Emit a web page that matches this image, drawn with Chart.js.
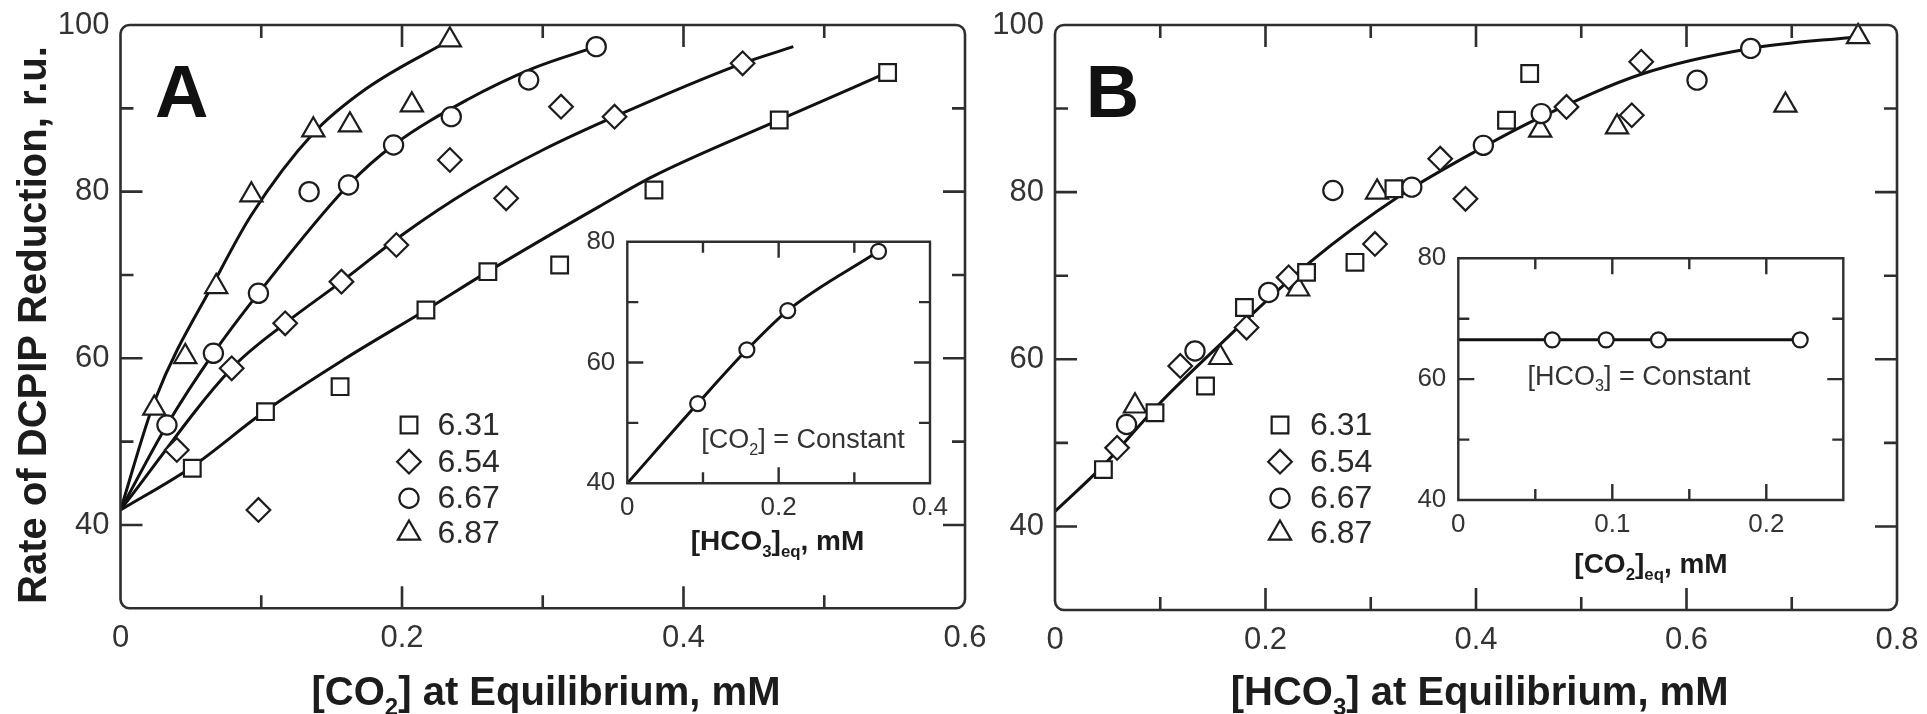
<!DOCTYPE html>
<html>
<head>
<meta charset="utf-8">
<script src="https://cdn.jsdelivr.net/npm/chart.js@4.4.1/dist/chart.umd.min.js"></script>
<style>
  html, body { margin: 0; padding: 0; background: #fff; }
  #wrap { position: relative; width: 1927px; height: 714px; overflow: hidden; background: #fff; }
  canvas { position: absolute; }
</style>
</head>
<body>
<div id="wrap">
  <canvas id="mainA" width="1000" height="714" style="left:0px;top:0px"></canvas>
  <canvas id="mainB" width="947" height="714" style="left:980px;top:0px"></canvas>
  <canvas id="insetA" width="400" height="375" style="left:560px;top:225px"></canvas>
  <canvas id="insetB" width="480" height="360" style="left:1390px;top:240px"></canvas>
</div>
<script>
// ---------- data ----------
const phLabels = ['6.31', '6.54', '6.67', '6.87'];

// Panel A: rate of DCPIP reduction vs [CO2] at equilibrium (mM), one series per pH
const a631 = [[0.051,46.8],[0.103,53.6],[0.156,56.6],[0.217,65.8],[0.261,70.4],[0.312,71.2],[0.379,80.2],[0.468,88.6],[0.545,94.3]];
const a654 = [[0.040,49.0],[0.079,58.8],[0.098,41.8],[0.117,64.2],[0.157,69.2],[0.196,73.6],[0.234,83.8],[0.274,79.2],[0.313,90.2],[0.351,89.0],[0.442,95.4]];
const a667 = [[0.033,52.0],[0.066,60.6],[0.098,67.8],[0.134,80.0],[0.162,80.8],[0.194,85.6],[0.235,89.0],[0.290,93.4],[0.338,97.4]];
const a687 = [[0.024,54.0],[0.046,60.2],[0.068,68.6],[0.093,79.6],[0.137,87.4],[0.163,88.0],[0.207,90.4],[0.234,98.2]];

// Panel A fitted curves
const fitA631 = [[0,41.8],[0.051,47.0],[0.103,53.7],[0.160,60.0],[0.217,65.8],[0.261,70.4],[0.340,78.2],[0.378,81.8],[0.468,88.6],[0.545,94.3]];
const fitA654 = [[0,41.8],[0.079,58.8],[0.117,64.2],[0.157,69.2],[0.200,74.8],[0.250,80.4],[0.300,85.0],[0.351,89.0],[0.442,95.4],[0.478,97.4]];
const fitA667 = [[0,41.8],[0.033,52.0],[0.066,60.6],[0.098,67.8],[0.162,80.8],[0.194,85.6],[0.246,91.0],[0.293,94.8],[0.338,97.4]];
const fitA687 = [[0,41.8],[0.0245,55.0],[0.068,69.6],[0.093,77.2],[0.137,87.0],[0.175,92.4],[0.234,98.2]];

// Panel B: same rates vs [HCO3-] at equilibrium (mM)
const b631 = [[0.046,46.8],[0.095,53.6],[0.143,56.8],[0.180,66.2],[0.239,70.4],[0.285,71.6],[0.322,80.4],[0.429,88.6],[0.451,94.2]];
const b654 = [[0.059,49.4],[0.119,59.2],[0.182,63.8],[0.222,69.8],[0.304,73.8],[0.366,84.0],[0.390,79.2],[0.486,90.2],[0.548,89.2],[0.557,95.6]];
const b667 = [[0.068,52.2],[0.133,61.0],[0.203,68.0],[0.264,80.2],[0.339,80.6],[0.407,85.6],[0.462,89.4],[0.610,93.4],[0.661,97.2]];
const b687 = [[0.076,54.4],[0.157,60.2],[0.231,68.4],[0.306,80.0],[0.461,87.4],[0.534,87.8],[0.694,90.4],[0.763,98.6]];
const fitB = [[0,41.8],[0.046,47.3],[0.100,54.8],[0.158,61.9],[0.242,71.6],[0.328,79.6],[0.407,85.4],[0.462,89.0],[0.559,94.2],[0.661,97.2],[0.763,98.6]];

// Inset A: [CO2] constant, rate vs [HCO3]eq
const insetAx = [0.093, 0.158, 0.212, 0.332];
const insetAy = [53.2, 62.1, 68.6, 78.4];
const insetAfit = [[0,40],[0.093,53.2],[0.158,62.1],[0.212,68.6],[0.332,78.4]];

// Inset B: [HCO3] constant, rate vs [CO2]eq
const insetBx = [0.061, 0.096, 0.130, 0.222];
const insetBy = [66.5, 66.5, 66.5, 66.5];
const insetBfit = [[0,66.5],[0.061,66.5],[0.096,66.5],[0.130,66.5],[0.222,66.5]];

// Tick values and their labels
const mainYTicks  = [30, 40, 50, 60, 70, 80, 90, 100];
const mainYLabels = ['', '40', '', '60', '', '80', '', '100'];
const aXTicks  = [0, 0.1, 0.2, 0.3, 0.4, 0.5, 0.6];
const aXLabels = ['0', '', '0.2', '', '0.4', '', '0.6'];
const bXTicks  = [0, 0.1, 0.2, 0.3, 0.4, 0.5, 0.6, 0.7, 0.8];
const bXLabels = ['0', '', '0.2', '', '0.4', '', '0.6', '', '0.8'];
const insetYTicks  = [40, 50, 60, 70, 80];
const insetYLabels = ['40', '', '60', '', '80'];
const insetAXTicks  = [0, 0.1, 0.2, 0.3, 0.4];
const insetAXLabels = ['0', '', '0.2', '', '0.4'];
const insetBXTicks  = [0, 0.05, 0.1, 0.15, 0.2, 0.25];
const insetBXLabels = ['0', '', '0.1', '', '0.2', ''];

// ---------- styling helpers ----------
const FONT = '"Liberation Sans", Arial, Helvetica, sans-serif';
const INK = '#1c1c1c';
const FRAME = '#2e2e2e';

const markerStyles = [
  { pointStyle: 'rect',     radius: 11.8 },
  { pointStyle: 'rectRot',  radius: 11.8 },
  { pointStyle: 'circle',   radius: 9.6 },
  { pointStyle: 'triangle', radius: 12.8 }
];

const toXY = arr => arr.map(p => ({ x: p[0], y: p[1] }));
const zipXY = (xs, ys) => xs.map((x, i) => ({ x, y: ys[i] }));

function markerSet(label, points, styleIdx, radiusOverride) {
  const st = markerStyles[styleIdx];
  return {
    label, data: points, isMarker: true, showLine: false, order: 1, clip: false,
    pointStyle: st.pointStyle, pointRadius: radiusOverride || st.radius,
    pointBorderWidth: 2.2, pointBorderColor: INK, pointBackgroundColor: '#fff',
    pointHoverRadius: radiusOverride || st.radius
  };
}
function curveSet(points) {
  return {
    data: points, showLine: true, order: 2, pointRadius: 0, pointHoverRadius: 0,
    borderColor: '#111', borderWidth: 3, cubicInterpolationMode: 'monotone', fill: false
  };
}

function axisX(min, max, ticks, labels, size, pad, height) {
  return {
    type: 'linear', position: 'bottom', min, max,
    afterBuildTicks: s => { s.ticks = ticks.map(v => ({ value: v })); },
    afterFit: s => { s.height = height; s.paddingLeft = 0; s.paddingRight = 0; },
    grid: { display: false, drawTicks: false }, border: { display: false },
    ticks: { autoSkip: false, maxRotation: 0, minRotation: 0, padding: pad, color: '#333',
             font: { family: FONT, size }, callback: (v, i) => labels[i] }
  };
}
function axisY(min, max, ticks, labels, size, pad, width) {
  return {
    type: 'linear', position: 'left', min, max,
    afterBuildTicks: s => { s.ticks = ticks.map(v => ({ value: v })); },
    afterFit: s => { s.width = width; s.paddingTop = 0; s.paddingBottom = 0; },
    grid: { display: false, drawTicks: false }, border: { display: false },
    ticks: { autoSkip: false, padding: pad, color: '#333',
             font: { family: FONT, size }, callback: (v, i) => labels[i] }
  };
}

// text with subscript pieces; parts: strings or [subscriptString]
function drawRich(ctx, parts, cx, baseline, size, weight, color) {
  const subSize = size * 0.6;
  let total = 0;
  const segs = parts.map(p => {
    const sub = Array.isArray(p);
    const t = sub ? p[0] : p;
    ctx.font = `${weight} ${sub ? subSize : size}px ${FONT}`;
    const w = ctx.measureText(t).width;
    total += w;
    return { t, sub, w };
  });
  let x = cx - total / 2;
  ctx.fillStyle = color;
  ctx.textAlign = 'left';
  ctx.textBaseline = 'alphabetic';
  segs.forEach(s => {
    ctx.font = `${weight} ${s.sub ? subSize : size}px ${FONT}`;
    ctx.fillText(s.t, x, baseline + (s.sub ? size * 0.24 : 0));
    x += s.w;
  });
}

function drawSymbol(ctx, style, r, x, y) {
  ctx.beginPath();
  if (style === 'circle') {
    ctx.arc(x, y, r, 0, Math.PI * 2);
  } else if (style === 'rect') {
    const s = r * Math.SQRT1_2;
    ctx.rect(x - s, y - s, 2 * s, 2 * s);
  } else if (style === 'rectRot') {
    ctx.moveTo(x - r, y); ctx.lineTo(x, y - r); ctx.lineTo(x + r, y); ctx.lineTo(x, y + r); ctx.closePath();
  } else if (style === 'triangle') {
    ctx.moveTo(x, y - r);
    ctx.lineTo(x + r * 0.866, y + r * 0.5);
    ctx.lineTo(x - r * 0.866, y + r * 0.5);
    ctx.closePath();
  }
  ctx.fill();
  ctx.stroke();
}

// Frame, inward tick marks, annotations and pH key for each panel
const decor = {
  id: 'decor',
  beforeDraw(chart, args, o) {
    if (!o.fillArea) return;
    const { ctx, chartArea: a } = chart;
    ctx.save();
    ctx.fillStyle = '#fff';
    ctx.fillRect(a.left, a.top, a.right - a.left, a.bottom - a.top);
    ctx.restore();
  },
  afterDraw(chart, args, o) {
    const { ctx, chartArea: a, scales } = chart;
    ctx.save();
    ctx.strokeStyle = FRAME;
    ctx.lineWidth = o.lineWidth;
    ctx.beginPath();
    if (o.radius && ctx.roundRect) ctx.roundRect(a.left, a.top, a.right - a.left, a.bottom - a.top, o.radius);
    else ctx.rect(a.left, a.top, a.right - a.left, a.bottom - a.top);
    ctx.stroke();

    ctx.beginPath();
    const xs = scales.x, ys = scales.y;
    xs.ticks.forEach(t => {
      if (t.value <= xs.min || t.value >= xs.max) return;
      const p = xs.getPixelForValue(t.value);
      const L = t.label ? o.major : o.minor;
      ctx.moveTo(p, a.bottom); ctx.lineTo(p, a.bottom - L);
      ctx.moveTo(p, a.top); ctx.lineTo(p, a.top + L);
    });
    ys.ticks.forEach(t => {
      if (t.value <= ys.min || t.value >= ys.max) return;
      const p = ys.getPixelForValue(t.value);
      const L = t.label ? o.major : o.minor;
      ctx.moveTo(a.left, p); ctx.lineTo(a.left + L, p);
      ctx.moveTo(a.right, p); ctx.lineTo(a.right - L, p);
    });
    ctx.stroke();

    (o.texts || []).forEach(t => {
      ctx.save();
      if (t.rotate) {
        ctx.translate(t.x, t.y);
        ctx.rotate(t.rotate);
        drawRich(ctx, t.parts, 0, t.size * 0.358, t.size, t.weight, t.color);
      } else {
        drawRich(ctx, t.parts, t.x, t.y, t.size, t.weight, t.color);
      }
      ctx.restore();
    });

    if (o.key) {
      const k = o.key;
      const sets = chart.data.datasets.filter(d => d.isMarker);
      sets.forEach((d, i) => {
        const y = k.rows[i];
        ctx.fillStyle = '#fff';
        ctx.strokeStyle = INK;
        ctx.lineWidth = 2.2;
        drawSymbol(ctx, d.pointStyle, d.pointRadius, k.symX, y);
        ctx.fillStyle = '#2a2a2a';
        ctx.font = `${k.size}px ${FONT}`;
        ctx.textAlign = 'left';
        ctx.textBaseline = 'middle';
        ctx.fillText(d.label, k.textX, y + 1);
      });
    }
    ctx.restore();
  }
};

const baseOptions = () => ({
  responsive: false, animation: false, events: [], devicePixelRatio: 1,
  plugins: { legend: { display: false }, tooltip: { enabled: false } }
});

// ---------- Panel A ----------
const optA = baseOptions();
optA.layout = { padding: { left: 0, top: 25, right: 35, bottom: 0 } };
optA.scales = {
  x: axisX(0, 0.6, aXTicks, aXLabels, 31, 12, 714 - 608.3),
  y: axisY(30, 100, mainYTicks, mainYLabels, 31, 11, 120.5)
};
optA.plugins.decor = {
  lineWidth: 2.6, radius: 9, major: 22, minor: 13,
  texts: [
    { parts: ['Rate of DCPIP Reduction, r.u.'], x: 32, y: 325, rotate: -Math.PI / 2, size: 40, weight: 'bold', color: INK },
    { parts: ['[CO', ['2'], '] at Equilibrium, mM'], x: 546, y: 705, size: 40, weight: 'bold', color: INK },
    { parts: ['A'], x: 181.7, y: 116.7, size: 74, weight: 'bold', color: '#111' }
  ],
  key: { symX: 409, textX: 437.5, rows: [425, 461.7, 498.3, 533.3], size: 32 }
};
new Chart(document.getElementById('mainA'), {
  type: 'scatter',
  data: {
    datasets: [
      markerSet(phLabels[0], toXY(a631), 0),
      markerSet(phLabels[1], toXY(a654), 1),
      markerSet(phLabels[2], toXY(a667), 2),
      markerSet(phLabels[3], toXY(a687), 3),
      curveSet(toXY(fitA631)),
      curveSet(toXY(fitA654)),
      curveSet(toXY(fitA667)),
      curveSet(toXY(fitA687))
    ]
  },
  options: optA,
  plugins: [decor]
});

// ---------- Panel B ----------
const optB = baseOptions();
optB.layout = { padding: { left: 0, top: 25, right: 30, bottom: 0 } };
optB.scales = {
  x: axisX(0, 0.8, bXTicks, bXLabels, 31, 12, 714 - 610),
  y: axisY(30, 100, mainYTicks, mainYLabels, 31, 11, 75)
};
optB.plugins.decor = {
  lineWidth: 2.6, radius: 9, major: 22, minor: 13,
  texts: [
    { parts: ['[HCO', ['3'], '] at Equilibrium, mM'], x: 499.6, y: 705, size: 40, weight: 'bold', color: INK },
    { parts: ['B'], x: 132.5, y: 116.7, size: 74, weight: 'bold', color: '#111' }
  ],
  key: { symX: 300, textX: 330, rows: [425, 461.7, 498.3, 533.3], size: 32 }
};
new Chart(document.getElementById('mainB'), {
  type: 'scatter',
  data: {
    datasets: [
      markerSet(phLabels[0], toXY(b631), 0),
      markerSet(phLabels[1], toXY(b654), 1),
      markerSet(phLabels[2], toXY(b667), 2),
      markerSet(phLabels[3], toXY(b687), 3),
      curveSet(toXY(fitB))
    ]
  },
  options: optB,
  plugins: [decor]
});

// ---------- Inset A ----------
const optIA = baseOptions();
optIA.layout = { padding: { left: 0, top: 16.7, right: 30, bottom: 0 } };
optIA.scales = {
  x: axisX(0, 0.4, insetAXTicks, insetAXLabels, 26, 9, 375 - 258.3),
  y: axisY(40, 80, insetYTicks, insetYLabels, 26, 12, 67.3)
};
optIA.plugins.decor = {
  fillArea: true, lineWidth: 2.4, radius: 0, major: 16, minor: 11,
  texts: [
    { parts: ['[HCO', ['3'], ']', ['eq'], ', mM'], x: 217.5, y: 325, size: 28, weight: 'bold', color: INK },
    { parts: ['[CO', ['2'], '] = Constant'], x: 243, y: 223.3, size: 27, weight: 'normal', color: '#333' }
  ]
};
const insetAMarks = markerSet('', zipXY(insetAx, insetAy), 2, 7.5);
insetAMarks.isMarker = false;
new Chart(document.getElementById('insetA'), {
  type: 'scatter',
  data: { datasets: [insetAMarks, curveSet(toXY(insetAfit))] },
  options: optIA,
  plugins: [decor]
});

// ---------- Inset B ----------
const optIB = baseOptions();
optIB.layout = { padding: { left: 0, top: 18.3, right: 26.7, bottom: 0 } };
optIB.scales = {
  x: axisX(0, 0.25, insetBXTicks, insetBXLabels, 26, 9, 360 - 260),
  y: axisY(40, 80, insetYTicks, insetYLabels, 26, 12, 68.3)
};
optIB.plugins.decor = {
  fillArea: true, lineWidth: 2.4, radius: 0, major: 16, minor: 11,
  texts: [
    { parts: ['[CO', ['2'], ']', ['eq'], ', mM'], x: 261, y: 333, size: 28, weight: 'bold', color: INK },
    { parts: ['[HCO', ['3'], '] = Constant'], x: 249, y: 145, size: 27, weight: 'normal', color: '#333' }
  ]
};
const insetBMarks = markerSet('', zipXY(insetBx, insetBy), 2, 7.5);
insetBMarks.isMarker = false;
const insetBLine = curveSet(toXY(insetBfit));
insetBLine.cubicInterpolationMode = 'default';
insetBLine.tension = 0;
new Chart(document.getElementById('insetB'), {
  type: 'scatter',
  data: { datasets: [insetBMarks, insetBLine] },
  options: optIB,
  plugins: [decor]
});
</script>
</body>
</html>
